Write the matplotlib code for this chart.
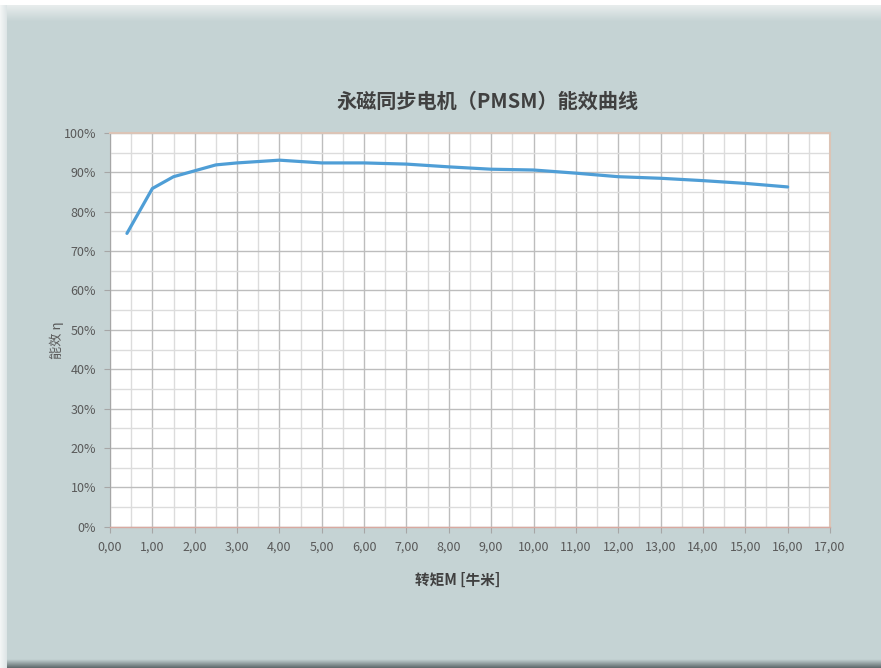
import numpy as np
import matplotlib.pyplot as plt
from matplotlib.patches import Rectangle
from matplotlib.colors import LinearSegmentedColormap
from matplotlib.ticker import MultipleLocator, FuncFormatter

plt.rcParams['font.family'] = ['Noto Sans CJK SC', 'DejaVu Sans']

# 转矩 [牛米] 与 能效 [%]
torque = [0.4, 1.0, 1.5, 2.5, 3.0, 4.0, 5.0, 6.0, 7.0, 8.0,
          9.0, 10.0, 11.0, 12.0, 13.0, 14.0, 15.0, 16.0]
efficiency = [74.5, 85.9, 88.9, 91.9, 92.4, 93.1, 92.4, 92.4, 92.1, 91.4,
              90.8, 90.6, 89.8, 88.9, 88.5, 87.9, 87.2, 86.3]

title = '永磁同步电机（PMSM）能效曲线'
xlabel = '转矩M [牛米]'
ylabel = '能效 η'

bg = '#c5d3d4'
txt = '#595959'

fig = plt.figure(figsize=(8.81, 6.68), dpi=100)
fig.patch.set_facecolor('white')

# chart area background with soft top highlight and bottom shadow
W, H = 881, 668
fig.add_artist(Rectangle((7 / W, 0), 1 - 7 / W, 1 - 5 / H, transform=fig.transFigure,
                         facecolor=bg, edgecolor='none', zorder=-10))
grad = np.linspace(0, 1, 20).reshape(-1, 1)
gax = fig.add_axes([7 / W, 1 - 22 / H, 1 - 7 / W, 17 / H], zorder=-9)
gax.imshow(grad, aspect='auto', cmap=LinearSegmentedColormap.from_list(
    'top', ['#e8eded', bg]), extent=(0, 1, 0, 1))
gax.axis('off')
sax = fig.add_axes([7 / W, 0, 1 - 7 / W, 9 / H], zorder=-9)
sax.imshow(grad, aspect='auto', cmap=LinearSegmentedColormap.from_list(
    'bot', [bg, '#5f6a6c']), extent=(0, 1, 0, 1))
sax.axis('off')
lax = fig.add_axes([0, 0, 7 / W, 1 - 5 / H], zorder=-9)
lax.imshow(grad.T, aspect='auto', cmap=LinearSegmentedColormap.from_list(
    'left', ['#f4f6f6', '#dde5e6']), extent=(0, 1, 0, 1))
lax.axis('off')

ax = fig.add_axes([110 / W, 1 - 526.7 / H, 720 / W, (526.7 - 133) / H])
ax.set_facecolor('white')
ax.plot(torque, efficiency, color='#4f9ed6', lw=2.3, solid_capstyle='round', zorder=3)

ax.set_xlim(0, 17)
ax.set_ylim(0, 100)
ax.xaxis.set_major_locator(MultipleLocator(1))
ax.xaxis.set_minor_locator(MultipleLocator(0.5))
ax.yaxis.set_major_locator(MultipleLocator(10))
ax.yaxis.set_minor_locator(MultipleLocator(5))
ax.xaxis.set_major_formatter(FuncFormatter(lambda v, p: f'{v:.2f}'.replace('.', ',')))
ax.yaxis.set_major_formatter(FuncFormatter(lambda v, p: f'{v:.0f}%'))

ax.grid(which='major', color='#bdbdbd', lw=1.0)
ax.grid(which='minor', color='#dcdcdc', lw=1.0)
ax.set_axisbelow(True)

ax.tick_params(which='major', length=4, width=0.8, color='#a6a6a6', labelcolor=txt,
               labelsize=9, pad=6)
ax.tick_params(which='minor', length=0)

ax.spines['top'].set_color('#dcc4b6')
ax.spines['right'].set_color('#dcc4b6')
ax.spines['top'].set_linewidth(1.5)
ax.spines['right'].set_linewidth(1.5)
ax.spines['left'].set_color('#a6a6a6')
ax.spines['bottom'].set_color('#d9a9a0')
ax.spines['bottom'].set_linewidth(1.0)

fig.text(488 / W, 1 - 101 / H, title, ha='center', va='center', fontsize=14.5,
         fontweight='heavy', color='#404040')
fig.text(458 / W, 1 - 580 / H, xlabel, ha='center', va='center', fontsize=10.5,
         fontweight='heavy', color='#404040')
fig.text(57 / W, 1 - 340 / H, ylabel, ha='center', va='center', fontsize=9.5,
         rotation=90, color=txt)

fig.savefig('out.png', dpi=100, facecolor=fig.get_facecolor())
